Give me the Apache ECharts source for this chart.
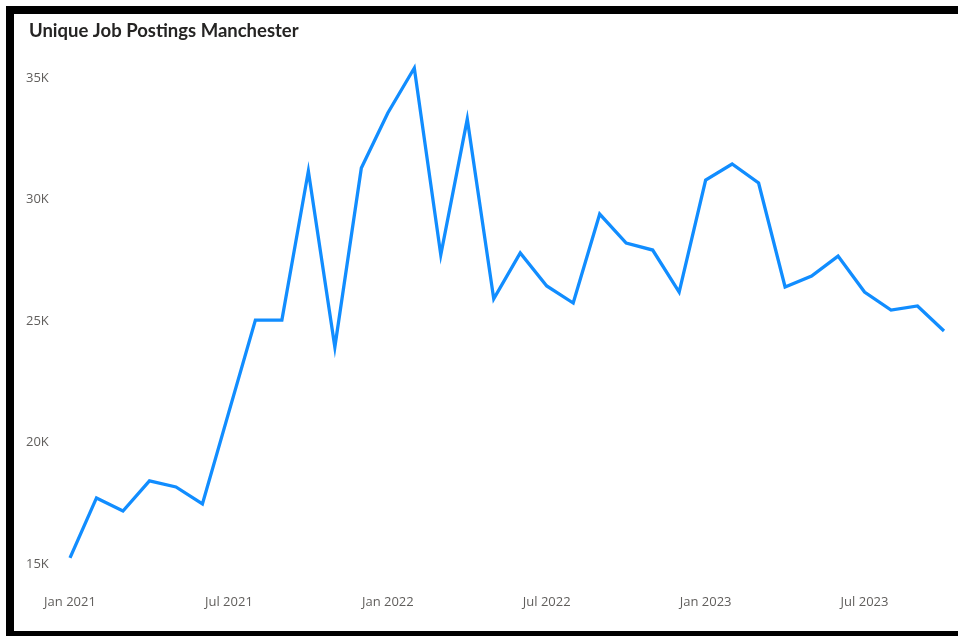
<!DOCTYPE html>
<html>
<head>
<meta charset="utf-8">
<script src="https://cdn.jsdelivr.net/npm/echarts@6/dist/echarts.min.js"></script>
<style>
  html, body { margin: 0; padding: 0; background: #fff; }
  #chart { position: absolute; left: 0; top: 0; width: 958px; height: 636px; }
  #frame { position: absolute; left: 6px; top: 6px; width: 952px; height: 630px;
    box-sizing: border-box; border-top: 8px solid #000; border-left: 8px solid #000;
    border-bottom: 5px solid #000; pointer-events: none; }
</style>
</head>
<body>
<div id="chart"></div>
<div id="frame"></div>
<script>
const titleText = 'Unique Job Postings Manchester';
const months = ['Jan', 'Feb', 'Mar', 'Apr', 'May', 'Jun', 'Jul', 'Aug', 'Sep', 'Oct', 'Nov', 'Dec'];
const years = [2021, 2022, 2023];
const categories = [];
for (const y of years) for (const m of months) categories.push(m + ' ' + y);
categories.length = 34; // Jan 2021 .. Oct 2023

const postings = [
  15250, 17720, 17180, 18420, 18170, 17470, 21260, 25040, 25040, 31170, 23930, 31300,
  33560, 35410, 27720, 33310, 25910, 27800, 26440, 25740, 29400, 28210, 27920, 26190,
  30800, 31460, 30680, 26400, 26850, 27670, 26190, 25450, 25620, 24590
];
const yTicks = [15000, 20000, 25000, 30000, 35000];

const chart = echarts.init(document.getElementById('chart'), null, { renderer: 'canvas' });
chart.setOption({
  animation: false,
  backgroundColor: 'transparent',
  title: {
    text: titleText,
    left: 24, top: 17,
    textStyle: { fontFamily: 'Lato', fontSize: 18.5, fontWeight: 'bold', color: '#252423' }
  },
  grid: { left: 70, right: 14, top: 78, bottom: 72 },
  xAxis: {
    type: 'category',
    data: categories,
    boundaryGap: false,
    axisLine: { show: false },
    axisTick: { show: false },
    splitLine: { show: false },
    axisLabel: {
      interval: 5,
      margin: 32,
      color: '#605E5C',
      fontFamily: 'Open Sans',
      fontSize: 13
    }
  },
  yAxis: {
    type: 'value',
    min: yTicks[0],
    max: yTicks[yTicks.length - 1],
    interval: 5000,
    axisLine: { show: false },
    axisTick: { show: false },
    splitLine: { show: false },
    axisLabel: {
      align: 'left',
      margin: 44,
      color: '#605E5C',
      fontFamily: 'Open Sans',
      fontSize: 13,
      formatter: v => (v / 1000) + 'K'
    }
  },
  series: [{
    type: 'line',
    data: postings,
    clip: false,
    showSymbol: false,
    lineStyle: { color: '#118DFF', width: 3.3, join: 'miter' },
    itemStyle: { color: '#118DFF' }
  }]
});
</script>
</body>
</html>
